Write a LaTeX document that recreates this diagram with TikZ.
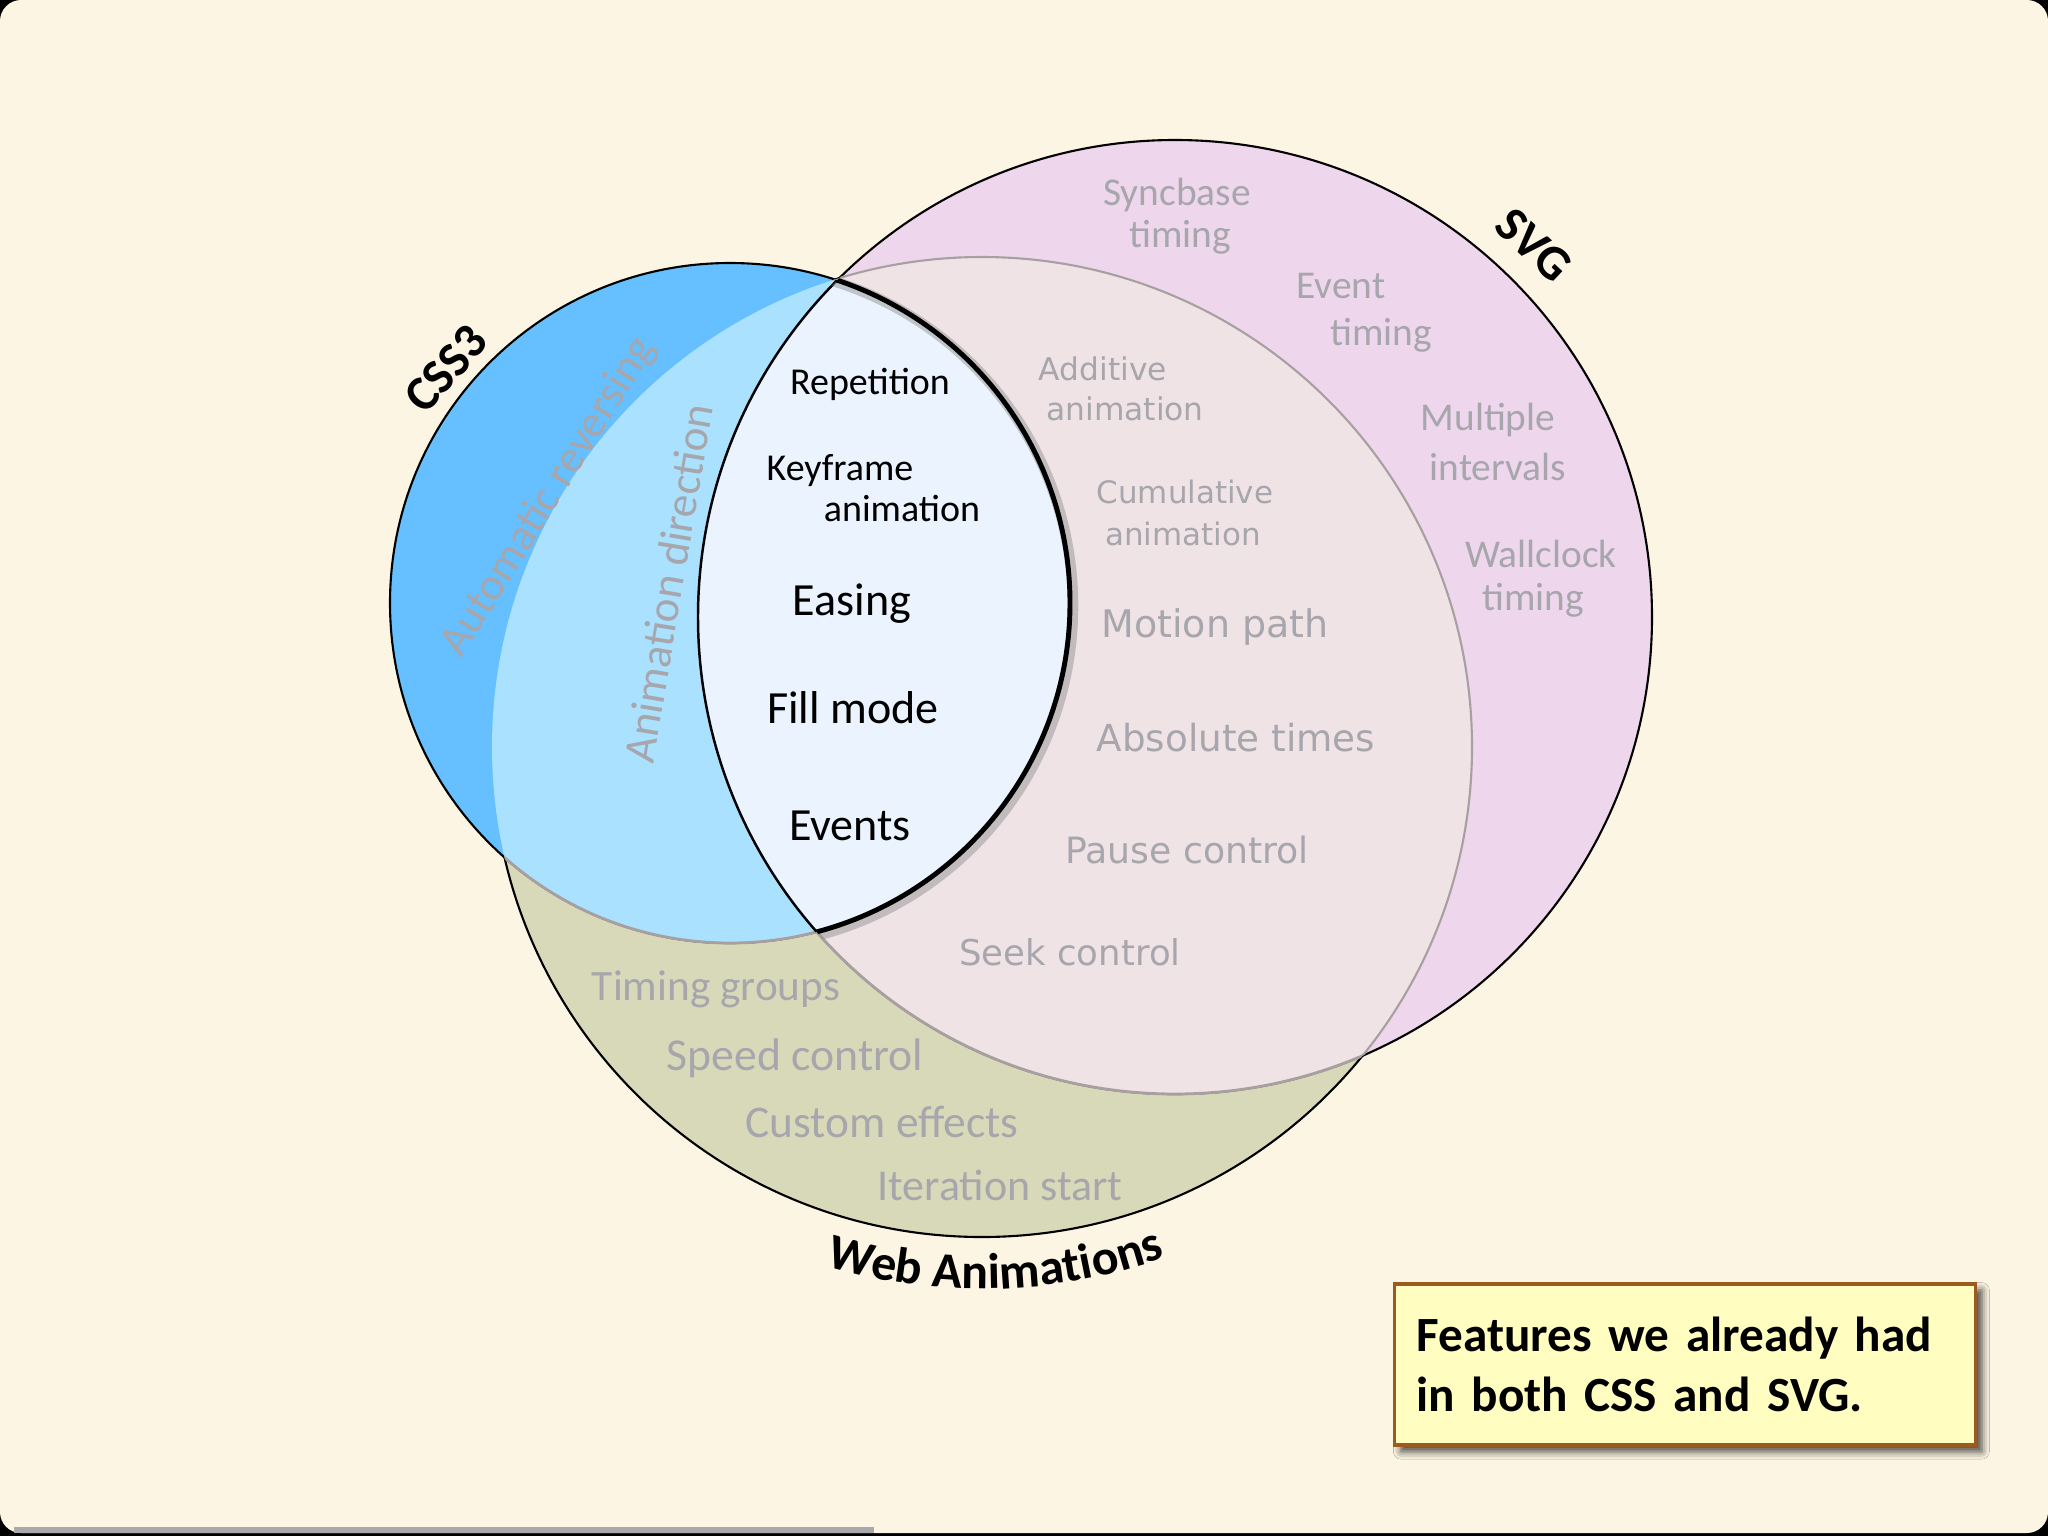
\documentclass[tikz,border=0pt]{standalone}
\usepackage{fontspec}
\setmainfont{Carlito}
\newfontfamily\widefont{DejaVu Sans}
\usepackage{tikz}
\usetikzlibrary{decorations.text, shadows.blur}
\definecolor{paper}{HTML}{FDF5E4}
\definecolor{bargrey}{HTML}{A9A8AB}
\definecolor{cssblue}{HTML}{66BFFF}
\definecolor{csslight}{HTML}{AAE1FF}
\definecolor{lensblue}{HTML}{EAF3FE}
\definecolor{svgpink}{HTML}{EED6EC}
\definecolor{svgweb}{HTML}{F0E3E6}
\definecolor{webolive}{HTML}{D8D9B9}
\definecolor{rimgrey}{HTML}{A8A0A0}
\definecolor{featgrey}{HTML}{A6A6AC}
\definecolor{boxyellow}{HTML}{FFFDC0}
\definecolor{boxbrown}{HTML}{9B5A1E}

\tikzset{
  core/.style={inner sep=0pt, anchor=base, text=black, font=\fontsize{#1}{#1}\selectfont},
  feat/.style={inner sep=0pt, anchor=base, text=featgrey, font=\fontsize{#1}{#1}\selectfont},
  featwide/.style={inner sep=0pt, anchor=base, text=featgrey, font=\widefont\fontsize{#1}{#1}\selectfont},
  setname/.style={inner sep=0pt, text=black, font=\bfseries\fontsize{14}{14}\selectfont},
  notebox/.style={draw=boxbrown, line width=1pt, fill=boxyellow, minimum width=165pt, minimum height=45.8pt,
    text width=152.5pt, align=left, inner xsep=6.3pt, font=\bfseries\fontsize{14}{17}\selectfont,
    blur shadow={shadow xshift=1.8pt, shadow yshift=-1.8pt, shadow blur radius=2.2pt, shadow opacity=75}}
}

\begin{document}
\begin{tikzpicture}[x=0.01cm, y=-0.01cm]
  \useasboundingbox (0,0) rectangle (2048,1536);
  \fill[black] (0,0) rectangle (2048,1536);
  \fill[paper, rounded corners=6pt] (0,0) rectangle (2048,1533);
  \fill[bargrey] (14,1527) rectangle (874,1533);

  \coordinate (cssc) at (730,603);
  \coordinate (svgc) at (1175,617);
  \coordinate (webc) at (982,747);

  % Web Animations and SVG circles
  \filldraw[fill=webolive, draw=black, line width=0.6pt] (webc) circle (490);
  \filldraw[fill=svgpink, draw=black, line width=0.6pt] (svgc) circle (477);
  \begin{scope}
    \clip (svgc) circle (477);
    \filldraw[fill=svgweb, draw=rimgrey, line width=0.6pt] (webc) circle (490);
  \end{scope}
  \begin{scope}
    \clip (webc) circle (490);
    \draw[rimgrey, line width=0.8pt] (svgc) circle (477);
  \end{scope}

  % CSS3 circle
  \filldraw[fill=cssblue, draw=black, line width=0.6pt] (cssc) circle (340);
  \begin{scope}
    \clip (cssc) circle (340);
    \fill[csslight] (webc) circle (490);
  \end{scope}
  \begin{scope}
    \clip (webc) circle (490);
    \draw[rimgrey, line width=0.8pt] (cssc) circle (340);
  \end{scope}

  % shared lens
  \begin{scope}
    \clip (cssc) circle (340);
    \clip (svgc) circle (477);
    \fill[lensblue] (cssc) circle (340);
  \end{scope}
  \begin{scope}
    \clip (cssc) circle (340);
    \draw[black, line width=0.7pt] (svgc) circle (477);
  \end{scope}
  \begin{scope}
    \clip (svgc) circle (477);
    \draw[black!45, opacity=0.45, line width=3pt] (733,606) circle (340);
    \draw[black, line width=1.4pt] (cssc) circle (340);
  \end{scope}

  % lens features
  \node[core=10.8] (rep) at (870,394) {Repetition};
  \node[core=10.8] (key1) at (840,480) {Keyframe};
  \node[core=10.8] (key2) at (902,521) {animation};
  \node[core=13.1] (eas) at (852,615) {Easing};
  \node[core=13.1] (fill) at (853,723) {Fill mode};
  \node[core=13.1] (evts) at (850,840) {Events};

  % CSS3 only
  \node[feat=12.8, anchor=center, rotate=58] (autorev) at (549,497) {Automatic reversing};
  \node[feat=12.8, anchor=center, rotate=80.5] (animdir) at (668,583) {Animation direction};

  % SVG only
  \node[feat=11.2] (sync1) at (1177,205) {Syncbase};
  \node[feat=11.2] (sync2) at (1180,247) {timing};
  \node[feat=11.2] (evt1) at (1341,298) {Event};
  \node[feat=11.2] (evt2) at (1381,345) {timing};
  \node[feat=11.2] (mul1) at (1488,430) {Multiple};
  \node[feat=11.2] (mul2) at (1498,480) {intervals};
  \node[feat=11.2] (wal1) at (1541,567) {Wallclock};
  \node[feat=11.2] (wal2) at (1533,610) {timing};

  % SVG and Web Animations
  \node[featwide=8.9] (add1) at (1103,380) {Additive};
  \node[featwide=8.9] (add2) at (1125,420) {animation};
  \node[featwide=8.8] (cum1) at (1185,503) {Cumulative};
  \node[featwide=8.8] (cum2) at (1183,545) {animation};
  \node[featwide=10.8] (mot) at (1215,637) {Motion path};
  \node[featwide=10.6] (abst) at (1236,751) {Absolute times};
  \node[featwide=10.3] (pause) at (1187,863) {Pause control};
  \node[featwide=10.1] (seek) at (1070,965) {Seek control};

  % Web Animations only
  \node[feat=12.3] (tgrp) at (716,1000) {Timing groups};
  \node[feat=13.0] (speed) at (795,1070) {Speed control};
  \node[feat=12.9] (custom) at (882,1137) {Custom effects};
  \node[feat=12.5] (iter) at (1000,1200) {Iteration start};

  % circle names
  \node[setname, rotate=48] (csslbl) at (446,369) {CSS3};
  \node[setname, rotate=-43] (svglbl) at (1534,245) {SVG};
  \path[decorate, decoration={text along path, text align=center,
      text={|\bfseries\fontsize{14.2}{14}\selectfont|Web Animations}}]
    (webc) ++(123.5:542) arc[start angle=123.5, end angle=53.5, radius=542];

  \node[notebox] (note) at (1685,1364.5) {Features we already had\\in both CSS and SVG.};
\end{tikzpicture}
\end{document}
